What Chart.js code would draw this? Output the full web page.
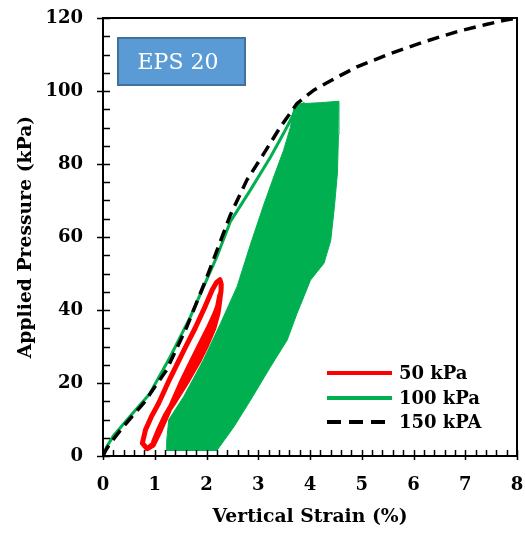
<!DOCTYPE html>
<html>
<head>
<meta charset="utf-8">
<script src="https://cdn.jsdelivr.net/npm/chart.js@4.4.1/dist/chart.umd.min.js"></script>
<style>
  body { margin: 0; background: #fff; }
</style>
</head>
<body>
<canvas id="strain-chart" width="525" height="538"></canvas>
<script>
// --- data ---
const legendLabels = ['50 kPa', '100 kPa', '150 kPA'];
const boxLabel = 'EPS 20';
const xTicks = [0, 1, 2, 3, 4, 5, 6, 7, 8];
const yTicks = [0, 20, 40, 60, 80, 100, 120];

// 150 kPa monotonic loading (dashed)
const strain150 = [0, 0.05, 0.14, 0.39, 0.78, 1.23, 1.62, 2.01, 2.46, 2.78, 3.11, 3.43, 3.75, 4.08, 4.5, 4.92, 5.56, 6.21, 6.85, 7.4, 7.76, 8.0];
const pressure150 = [0, 1.5, 3.5, 8, 14.4, 23.6, 35.4, 49.1, 66, 75.6, 82.9, 90.2, 96.6, 100.3, 103.6, 106.7, 110.3, 113.5, 116.3, 118.2, 119.4, 120];

// 100 kPa first loading branch
const strain100 = [0, 0.07, 0.2, 0.52, 0.9, 1.3, 1.69, 2.2, 2.46, 2.85, 3.24, 3.49, 3.66, 3.75, 3.9];
const pressure100 = [0, 2.5, 5.5, 10.8, 17, 27.2, 38.2, 54.6, 64.2, 72.9, 82, 88.4, 93, 95.7, 96.6];

// 100 kPa cyclic band: upper (left + top) edge and lower (bottom + right) edge
const bandUpperStrain = [1.22, 1.23, 1.27, 1.56, 1.94, 2.27, 2.59, 2.85, 3.11, 3.3, 3.49, 3.62, 3.69, 3.8, 4.2, 4.56];
const bandUpperPressure = [1.5, 4, 9.9, 16.3, 26.3, 36.3, 46.4, 58, 69, 76.5, 83.8, 90, 95.5, 96.5, 96.8, 97.2];
const bandLowerStrain = [1.22, 2.2, 2.53, 2.85, 3.24, 3.56, 3.75, 3.88, 4.01, 4.14, 4.27, 4.4, 4.47, 4.53, 4.55, 4.56];
const bandLowerPressure = [1.5, 1.5, 8, 15.3, 24.5, 31.8, 39.1, 43.6, 48.2, 50.5, 52.8, 59, 68, 77.5, 88, 97.2];

// 50 kPa cycles (load / unload passes)
const strain50 = [
    0.85, 0.76, 0.82, 0.943, 1.073, 1.28, 1.46, 1.6, 1.78, 1.913, 1.975, 2.11, 2.19, 2.26,
    2.285, 2.282, 2.242, 2.222, 2.142, 1.992, 1.852, 1.642, 1.362, 1.2, 1.07, 0.985, 0.86,
    0.97, 1.11, 1.233, 1.333, 1.533, 1.713, 1.853, 2.033, 2.165, 2.215, 2.255,
    2.215, 2.19, 2.08, 1.915, 1.775, 1.58, 1.34, 1.2, 1.07, 0.98
];
const pressure50 = [
    2.0, 3.5, 7.1, 11, 14.4, 20.8, 26, 30, 35, 39.1, 41, 45.5, 47.5, 48.3,
    47, 45.5, 41, 39.1, 35, 30, 26, 20.8, 14.4, 11, 7.1, 3.5, 2.0,
    3, 7.1, 11, 14.4, 20.8, 26, 30, 35, 39.1, 41, 44,
    41, 39.1, 35, 30, 26, 20.8, 14.4, 11, 7.1, 4
];

const red = '#FF0000';
const green = '#00B050';

function toPoints(xs, ys) {
    return xs.map((x, i) => ({ x: x, y: ys[i] }));
}

const serif = "'DejaVu Serif', 'Liberation Serif', serif";

// inside ticks, frame, legend and label box
const decorPlugin = {
    id: 'decor',
    afterDraw(chart) {
        const ctx = chart.ctx;
        const a = chart.chartArea;
        const xs = chart.scales.x;
        const ys = chart.scales.y;
        ctx.save();
        ctx.strokeStyle = '#000';
        ctx.lineWidth = 2;
        ctx.strokeRect(a.left, a.top, a.right - a.left, a.bottom - a.top);

        ctx.lineWidth = 1.5;
        ctx.beginPath();
        for (let v = 0; v <= 8.001; v += 0.2) {
            const px = Math.round(xs.getPixelForValue(v)) + 0.5;
            const major = Math.abs(v - Math.round(v)) < 0.01;
            ctx.moveTo(px, a.bottom - 6);
            ctx.lineTo(px, a.bottom + (major ? 4 : 0));
        }
        for (let v = 0; v <= 120.01; v += 5) {
            const py = Math.round(ys.getPixelForValue(v)) + 0.5;
            const major = v % 20 === 0;
            ctx.moveTo(a.left + 7, py);
            ctx.lineTo(a.left - (major ? 6 : 0), py);
        }
        ctx.stroke();

        // label box
        ctx.fillStyle = '#5B9BD5';
        ctx.fillRect(117, 37, 129, 49);
        ctx.strokeStyle = '#41719C';
        ctx.lineWidth = 2;
        ctx.strokeRect(118, 38, 127, 47);
        ctx.fillStyle = '#fff';
        ctx.font = "22px " + serif;
        ctx.textAlign = 'center';
        ctx.textBaseline = 'middle';
        ctx.fillText(boxLabel, 178, 63);

        // legend
        const rows = [
            { ds: chart.data.datasets[4], y: 373 },
            { ds: chart.data.datasets[1], y: 398 },
            { ds: chart.data.datasets[0], y: 422 }
        ];
        ctx.font = "bold 18px " + serif;
        ctx.textAlign = 'left';
        rows.forEach((r, i) => {
            ctx.strokeStyle = r.ds.borderColor;
            ctx.lineWidth = 4;
            ctx.setLineDash(r.ds.borderDash ? [14, 8] : []);
            ctx.beginPath();
            ctx.moveTo(327, r.y);
            ctx.lineTo(r.ds.borderDash ? 385 : 392, r.y);
            ctx.stroke();
            ctx.fillStyle = '#000';
            ctx.fillText(legendLabels[i], 399, r.y + 1);
        });
        ctx.restore();
    }
};

const ctx = document.getElementById('strain-chart').getContext('2d');
const myChart = new Chart(ctx, {
    type: 'line',
    data: {
        datasets: [{
            label: legendLabels[2],
            data: toPoints(strain150, pressure150),
            borderColor: '#000',
            borderWidth: 3.5,
            borderDash: [12, 7],
            pointRadius: 0,
            fill: false
        }, {
            label: legendLabels[1],
            data: toPoints(strain100, pressure100),
            borderColor: green,
            borderWidth: 3,
            pointRadius: 0,
            fill: false
        }, {
            label: 'band-upper',
            data: toPoints(bandUpperStrain, bandUpperPressure),
            borderColor: green,
            backgroundColor: green,
            borderWidth: 1,
            pointRadius: 0,
            fill: '+1'
        }, {
            label: 'band-lower',
            data: toPoints(bandLowerStrain, bandLowerPressure),
            borderColor: green,
            borderWidth: 1,
            pointRadius: 0,
            fill: false
        }, {
            label: legendLabels[0],
            data: toPoints(strain50, pressure50),
            borderColor: red,
            borderWidth: 5,
            borderJoinStyle: 'round',
            borderCapStyle: 'round',
            pointRadius: 0,
            fill: false
        }]
    },
    options: {
        responsive: false,
        animation: false,
        layout: { padding: { top: 18, right: 8, left: 0, bottom: 0 } },
        elements: { line: { tension: 0 } },
        plugins: {
            legend: { display: false },
            tooltip: { enabled: false }
        },
        scales: {
            x: {
                type: 'linear',
                min: 0,
                max: 8,
                afterFit: (s) => { s.height = 82; s.paddingLeft = 0; s.paddingRight = 0; },
                afterBuildTicks: (s) => { s.ticks = xTicks.map(v => ({ value: v })); },
                grid: { display: false, drawTicks: false },
                border: { display: false },
                ticks: {
                    color: '#000',
                    padding: 19,
                    font: { family: serif, size: 18, weight: 'bold' }
                },
                title: {
                    display: true,
                    text: 'Vertical Strain (%)',
                    color: '#000',
                    padding: { bottom: 10 },
                    font: { family: serif, size: 18.8, weight: 'bold' }
                }
            },
            y: {
                type: 'linear',
                min: 0,
                max: 120,
                afterFit: (s) => { s.width = 103; s.paddingTop = 0; s.paddingBottom = 0; },
                afterBuildTicks: (s) => { s.ticks = yTicks.map(v => ({ value: v })); },
                grid: { display: false, drawTicks: false },
                border: { display: false },
                ticks: {
                    color: '#000',
                    padding: 20,
                    font: { family: serif, size: 18, weight: 'bold' }
                },
                title: {
                    display: true,
                    text: 'Applied Pressure (kPa)',
                    color: '#000',
                    padding: { top: 15 },
                    font: { family: serif, size: 18.8, weight: 'bold' }
                }
            }
        }
    },
    plugins: [decorPlugin]
});
</script>
</body>
</html>
